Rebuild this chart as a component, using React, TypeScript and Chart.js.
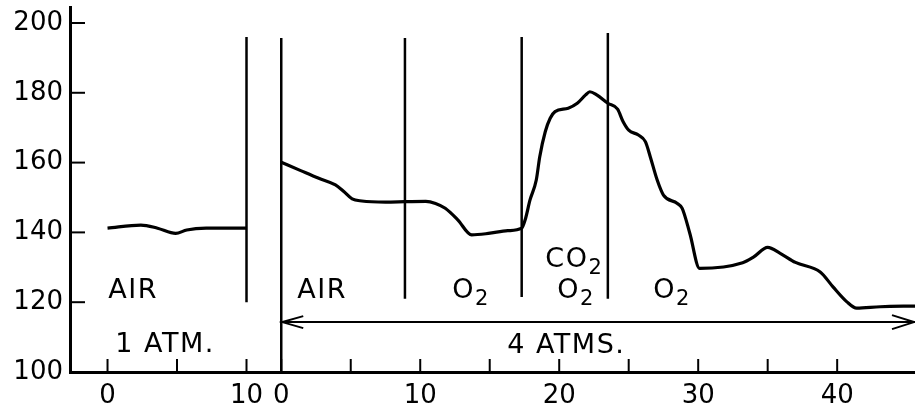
import { useEffect, useRef } from "react";
import { Chart, registerables } from "chart.js";

Chart.register(...registerables);

// ---- data ----
// 1 atmosphere panel (minutes, pressure)
const oneAtmMinutes = [0, 2.4, 3.6, 4.9, 5.7, 7.1, 10];
const oneAtmPressure = [141.2, 142.1, 141.2, 139.7, 140.7, 141.2, 141.2];

// 4 atmospheres panel (minutes, pressure)
const fourAtmMinutes = [
  0, 1.4, 2.7, 3.9, 4.5, 5.1, 5.8, 7.5, 8.9, 10.4, 11.1, 11.8, 12.7, 13.7, 14.9, 16.3, 17.3,
  17.55, 17.9, 18.35, 18.6, 19.0, 19.35, 19.7, 20.65, 21.3, 21.9, 22.2, 22.7, 23.5, 24.2, 24.6,
  25.0, 25.7, 26.2, 26.55, 27.05, 27.5, 28.5, 28.85, 29.4, 30.1, 33.2, 34.0, 35.0, 35.9, 37.0,
  38.8, 39.7, 40.7, 41.4, 43.1, 45.6,
];
const fourAtmPressure = [
  160.1, 157.7, 155.5, 153.6, 151.7, 149.6, 149.0, 148.7, 148.8, 148.9, 148.3, 146.9, 143.6,
  139.3, 139.7, 140.5, 141.2, 143.6, 149.3, 155.0, 161.7, 168.9, 172.7, 174.6, 175.6, 177.0,
  179.4, 180.3, 179.4, 177.0, 175.3, 171.7, 169.3, 167.9, 166.0, 161.7, 155.0, 150.7, 148.3,
  146.9, 139.7, 129.7, 131.3, 133.0, 135.7, 134.0, 131.4, 128.6, 124.4, 120.1, 118.3, 118.7,
  118.9,
];

// where minute 0 of the 1-atm panel sits on the shared time axis
const ONE_ATM_SHIFT = -12.5;

// axis ticks
const yTickValues = [100, 120, 140, 160, 180, 200];
const oneAtmTickMinutes = [0, 5, 10];
const oneAtmTickLabels = ["0", "", "10"];
const fourAtmTickMinutes = [0, 5, 10, 15, 20, 25, 30, 35, 40];
const fourAtmTickLabels = ["0", "", "10", "", "20", "", "30", "", "40"];

// phase divider lines
const oneAtmDividerMinutes = [10];
const oneAtmDividerBottom = [120];
const oneAtmDividerTop = [196];
const fourAtmDividerMinutes = [0, 8.9, 17.3, 23.5];
const fourAtmDividerBottom = [100, 121, 121.5, 121];
const fourAtmDividerTop = [195.7, 195.7, 196, 197.1];

// 4 ATMS. arrow
const arrowPressure = 114.3;
const arrowFromMinute = 0;
const arrowToMinute = 45.6;

// annotations (shared axis x = left edge, y = baseline)
const labelTexts = ["AIR", "1 ATM.", "AIR", "O", "CO", "O", "O", "4 ATMS."];
const labelSubs = ["", "", "", "2", "2", "2", "2", ""];
const labelX = [-12.45, -11.94, 1.15, 12.3, 19.0, 19.86, 26.76, 16.26];
const labelY = [121.2, 105.7, 121.2, 121.2, 130.1, 121.2, 121.2, 105.4];

const FONT = '"DejaVu Sans", sans-serif';

export default function App() {
  const ref = useRef<HTMLCanvasElement | null>(null);

  useEffect(() => {
    if (!ref.current) return;
    const xTicks = [
      ...oneAtmTickMinutes.map((m) => m + ONE_ATM_SHIFT),
      ...fourAtmTickMinutes,
    ];
    const xLabels = [...oneAtmTickLabels, ...fourAtmTickLabels];

    const dividerSets: any[] = [];
    oneAtmDividerMinutes.forEach((m, i) => {
      dividerSets.push({
        data: [
          { x: m + ONE_ATM_SHIFT, y: oneAtmDividerBottom[i] },
          { x: m + ONE_ATM_SHIFT, y: oneAtmDividerTop[i] },
        ],
        borderColor: "#000",
        borderWidth: 2.5,
        pointRadius: 0,
      });
    });
    fourAtmDividerMinutes.forEach((m, i) => {
      dividerSets.push({
        data: [
          { x: m, y: fourAtmDividerBottom[i] },
          { x: m, y: fourAtmDividerTop[i] },
        ],
        borderColor: "#000",
        borderWidth: 2.5,
        pointRadius: 0,
      });
    });

    const overlay = {
      id: "overlay",
      afterDatasetsDraw(chart: any) {
        const { ctx, chartArea, scales } = chart;
        const xs = scales.x;
        const ys = scales.y;
        ctx.save();
        ctx.strokeStyle = "#000";
        ctx.fillStyle = "#000";
        ctx.lineWidth = 2;
        ctx.lineCap = "butt";
        // inward tick marks
        xTicks.forEach((v) => {
          const px = xs.getPixelForValue(v);
          ctx.beginPath();
          ctx.moveTo(px, chartArea.bottom);
          ctx.lineTo(px, chartArea.bottom - 13);
          ctx.stroke();
        });
        yTickValues.forEach((v) => {
          if (v === ys.min) return;
          const py = ys.getPixelForValue(v);
          ctx.beginPath();
          ctx.moveTo(chartArea.left, py);
          ctx.lineTo(chartArea.left + 15, py);
          ctx.stroke();
        });
        // arrow heads
        const ay = ys.getPixelForValue(arrowPressure);
        const ax0 = xs.getPixelForValue(arrowFromMinute);
        const ax1 = xs.getPixelForValue(arrowToMinute) - 1;
        ctx.beginPath();
        ctx.moveTo(ax0 + 22, ay - 6);
        ctx.lineTo(ax0 + 1, ay);
        ctx.lineTo(ax0 + 22, ay + 6);
        ctx.moveTo(ax1 - 22, ay - 7);
        ctx.lineTo(ax1, ay);
        ctx.lineTo(ax1 - 22, ay + 7);
        ctx.stroke();
        // labels
        ctx.textBaseline = "alphabetic";
        ctx.textAlign = "left";
        labelTexts.forEach((t, i) => {
          const px = xs.getPixelForValue(labelX[i]);
          const py = ys.getPixelForValue(labelY[i]);
          ctx.font = `27px ${FONT}`;
          (ctx as any).letterSpacing = "1.5px";
          ctx.fillText(t, px, py);
          const w = ctx.measureText(t).width;
          if (labelSubs[i]) {
            ctx.font = `21px ${FONT}`;
            ctx.fillText(labelSubs[i], px + w, py + 7);
          }
        });
        ctx.restore();
      },
    };

    const chart = new Chart(ref.current, {
      type: "line",
      data: {
        datasets: [
          {
            data: oneAtmMinutes.map((m, i) => ({ x: m + ONE_ATM_SHIFT, y: oneAtmPressure[i] })),
            borderColor: "#000",
            borderWidth: 3.2,
            pointRadius: 0,
            cubicInterpolationMode: "monotone",
          },
          {
            data: fourAtmMinutes.map((m, i) => ({ x: m, y: fourAtmPressure[i] })),
            borderColor: "#000",
            borderWidth: 3.2,
            pointRadius: 0,
            cubicInterpolationMode: "monotone",
          },
          ...dividerSets,
          {
            data: [
              { x: arrowFromMinute, y: arrowPressure },
              { x: arrowToMinute, y: arrowPressure },
            ],
            borderColor: "#000",
            borderWidth: 2,
            pointRadius: 0,
          },
        ],
      },
      options: {
        animation: false,
        responsive: false,
        events: [],
        layout: { padding: { top: 7, right: 0, left: 0, bottom: 0 } },
        plugins: { legend: { display: false }, tooltip: { enabled: false } },
        scales: {
          x: {
            type: "linear",
            min: -15.2,
            max: 45.6,
            bounds: "data",
            grid: { display: false, drawTicks: false },
            border: { display: true, color: "#000", width: 3 },
            afterBuildTicks: (s: any) => {
              s.ticks = xTicks.map((v) => ({ value: v }));
            },
            afterFit: (s: any) => {
              s.height = 38;
              s.paddingLeft = 0;
              s.paddingRight = 0;
              s.paddingTop = 0;
              s.paddingBottom = 0;
            },
            ticks: {
              autoSkip: false,
              maxRotation: 0,
              minRotation: 0,
              padding: 9,
              color: "#000",
              font: { family: FONT, size: 26 },
              callback: (_v: any, i: number) => xLabels[i],
            },
          },
          y: {
            type: "linear",
            min: 100,
            max: 204.58,
            bounds: "data",
            grid: { display: false, drawTicks: false },
            border: { display: true, color: "#000", width: 3 },
            afterBuildTicks: (s: any) => {
              s.ticks = yTickValues.map((v) => ({ value: v }));
            },
            afterFit: (s: any) => {
              s.width = 70;
              s.paddingLeft = 0;
              s.paddingRight = 0;
              s.paddingTop = 0;
              s.paddingBottom = 0;
            },
            ticks: {
              padding: 7,
              color: "#000",
              font: { family: FONT, size: 26 },
              callback: (v: any) => String(v),
            },
          },
        },
      },
      plugins: [overlay],
    });
    return () => chart.destroy();
  }, []);

  return (
    <div style={{ position: "absolute", left: 0, top: 0, width: 915, height: 410, background: "#fff" }}>
      <canvas ref={ref} width={915} height={410} />
    </div>
  );
}
